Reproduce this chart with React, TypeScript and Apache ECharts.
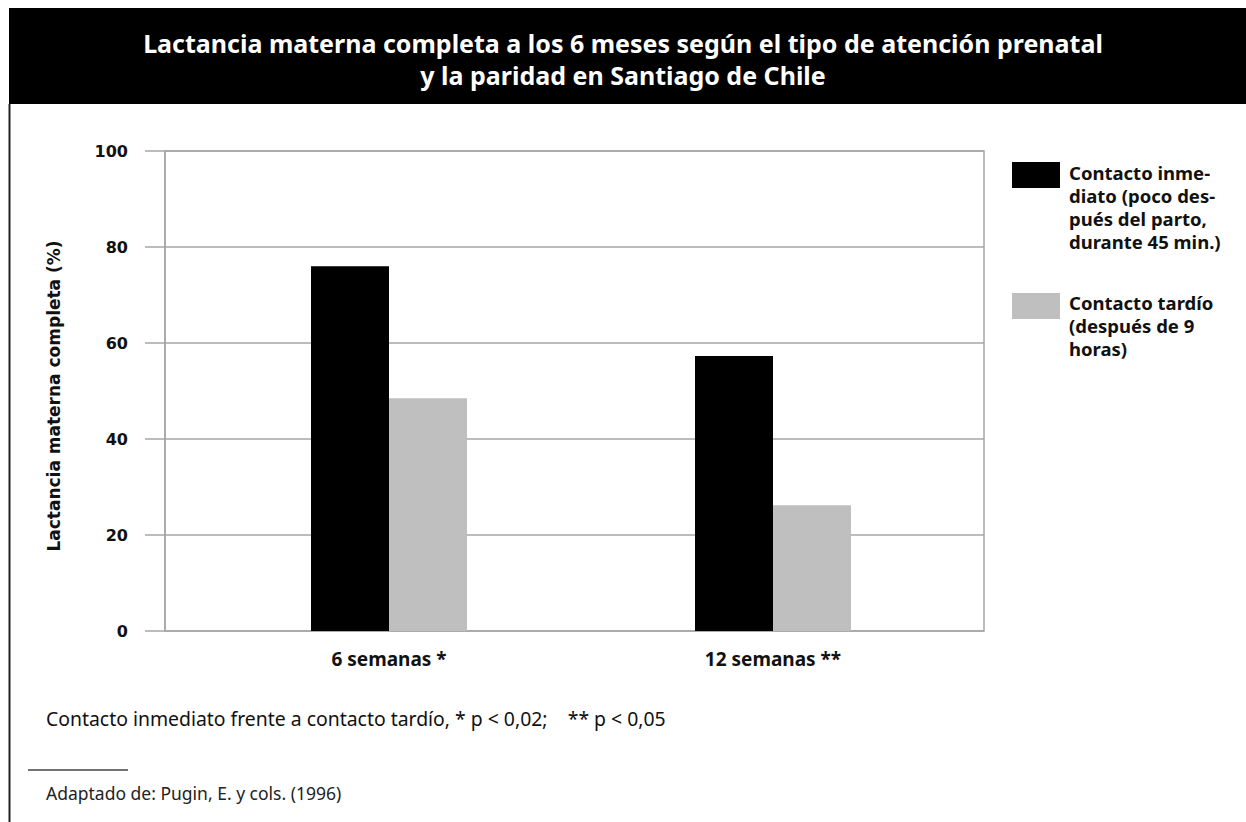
import React, { useEffect, useRef } from "react";
import * as echarts from "echarts";

// Lactancia materna completa (%) por momento del primer contacto
const categories = ["6 semanas *", "12 semanas **"];
const contactoInmediato = [76.0, 57.3];
const contactoTardio = [48.5, 26.2];
const yTicks = { min: 0, max: 100, interval: 20 };

const titleLines = [
  "Lactancia materna completa a los 6 meses según el tipo de atención prenatal",
  "y la paridad en Santiago de Chile",
];
const legendInmediato = ["Contacto inme-", "diato (poco des-", "pués del parto,", "durante 45 min.)"];
const legendTardio = ["Contacto tardío", "(después de 9", "horas)"];
const yAxisName = "Lactancia materna completa (%)";
const footnote = "Contacto inmediato frente a contacto tardío, * p < 0,02;    ** p < 0,05";
const source = "Adaptado de: Pugin, E. y cols. (1996)";

const BLACK = "#000000";
const GREY = "#bfbfbf";
const AXIS_GREY = "#a6a6a6";
const SANS = "'Noto Sans', 'Open Sans', sans-serif";
const WIDE = "'DejaVu Sans', Verdana, sans-serif";

export default function App() {
  const ref = useRef<HTMLDivElement>(null);

  useEffect(() => {
    if (!ref.current) return;
    const chart = echarts.init(ref.current, null, { renderer: "svg" });

    const legendText = (lines: string[], top: number) => ({
      type: "text",
      left: 1069,
      top,
      style: {
        text: lines.join("\n"),
        fill: "#111",
        font: `bold 18.5px ${SANS}`,
        lineHeight: 23,
      },
    });

    chart.setOption({
      animation: false,
      backgroundColor: "#ffffff",
      title: {
        text: titleLines.join("\n"),
        left: "center",
        top: 22,
        textStyle: {
          color: "#ffffff",
          fontFamily: SANS,
          fontWeight: "bold",
          fontSize: 25,
          lineHeight: 32,
        },
      },
      grid: [
        { left: 165, top: 151, width: 819, height: 480, show: true, borderColor: AXIS_GREY, borderWidth: 1.5, backgroundColor: "transparent" },
        { left: 197, top: 151, width: 768, height: 480 },
      ],
      xAxis: [
        { gridIndex: 0, type: "value", min: 0, max: 1, show: false },
        {
          gridIndex: 1,
          type: "category",
          data: categories,
          axisLine: { show: false },
          axisTick: { show: false },
          axisLabel: {
            margin: 18,
            color: "#111",
            fontFamily: SANS,
            fontWeight: "bold",
            fontSize: 19,
          },
        },
      ],
      yAxis: [
        {
          gridIndex: 0,
          type: "value",
          min: yTicks.min,
          max: yTicks.max,
          interval: yTicks.interval,
          name: yAxisName,
          nameLocation: "middle",
          nameGap: 103,
          nameTextStyle: { color: "#111", fontFamily: WIDE, fontSize: 17, fontWeight: "bold", padding: [0, 10, 0, 0] },
          axisLine: { show: true, lineStyle: { color: AXIS_GREY, width: 1.5 } },
          axisTick: { show: true, length: 20, lineStyle: { color: AXIS_GREY, width: 1.5 } },
          splitLine: { show: true, lineStyle: { color: AXIS_GREY, width: 1.5 } },
          axisLabel: {
            margin: 37,
            color: "#111",
            fontFamily: WIDE,
            fontWeight: "bold",
            fontSize: 16,
          },
        },
        { gridIndex: 1, type: "value", min: yTicks.min, max: yTicks.max, show: false },
      ],
      series: [
        {
          name: "Contacto inmediato",
          type: "bar",
          xAxisIndex: 1,
          yAxisIndex: 1,
          data: contactoInmediato,
          barWidth: 78,
          barGap: "0%",
          itemStyle: { color: BLACK },
        },
        {
          name: "Contacto tardío",
          type: "bar",
          xAxisIndex: 1,
          yAxisIndex: 1,
          data: contactoTardio,
          barWidth: 78,
          barGap: "0%",
          itemStyle: { color: GREY },
        },
      ],
      graphic: [
        { type: "rect", z: -1, shape: { x: 9, y: 8, width: 1237, height: 96 }, style: { fill: BLACK } },
        { type: "line", shape: { x1: 9.5, y1: 104, x2: 9.5, y2: 822 }, style: { stroke: "#222", lineWidth: 2 } },
        { type: "rect", shape: { x: 1012, y: 162, width: 48, height: 26 }, style: { fill: BLACK } },
        legendText(legendInmediato, 161),
        { type: "rect", shape: { x: 1012, y: 293, width: 48, height: 26 }, style: { fill: GREY } },
        legendText(legendTardio, 291),
        {
          type: "text",
          left: 46,
          top: 709,
          style: { text: footnote, fill: "#111", font: `19.4px ${SANS}` },
        },
        { type: "line", shape: { x1: 28, y1: 770, x2: 128, y2: 770 }, style: { stroke: "#444", lineWidth: 1.5 } },
        {
          type: "text",
          left: 46,
          top: 784,
          style: { text: source, fill: "#222", font: `17.5px ${SANS}` },
        },
      ],
    });

    return () => chart.dispose();
  }, []);

  return (
    <div
      ref={ref}
      style={{ position: "fixed", left: 0, top: 0, width: 1246, height: 822 }}
    />
  );
}
